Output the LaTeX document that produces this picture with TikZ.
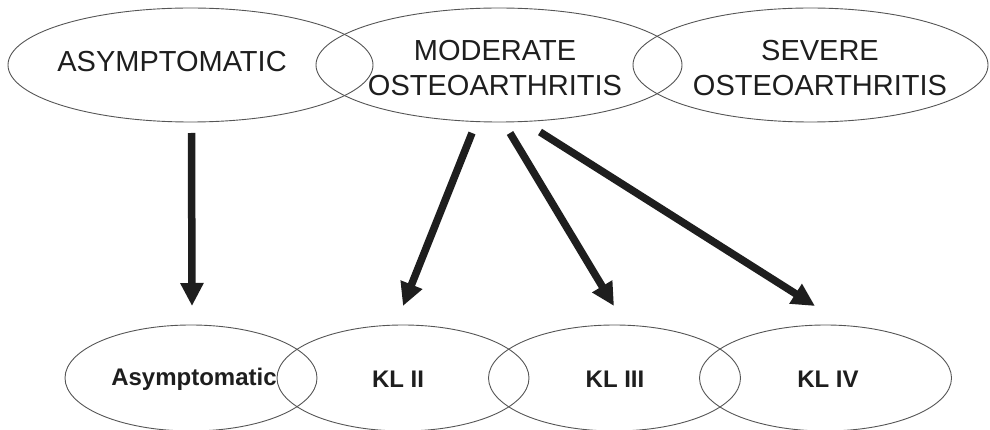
\documentclass[tikz,border=0pt]{standalone}
\usepackage{fontspec}
\setmainfont{Liberation Sans}
\usetikzlibrary{shapes.geometric,arrows.meta}
\definecolor{ring}{HTML}{555555}
\definecolor{ink}{HTML}{1E1E1E}
\tikzset{
  oval/.style={draw=ring,line width=0.9pt,ellipse,inner sep=0pt},
  topoval/.style={oval,minimum width=#1,minimum height=114pt},
  botoval/.style={oval,minimum width=252pt,minimum height=106pt},
  toptext/.style={text=ink,align=center,font=\fontsize{29}{35}\selectfont,inner sep=0pt},
  bottext/.style={text=ink,font=\fontsize{24}{28}\selectfont\bfseries,inner sep=0pt},
  bigarrow/.style={draw=ink,line width=7.5pt,-{Triangle[width=22pt,length=23pt]}}
}
\begin{document}
\begin{tikzpicture}[x=1pt,y=-1pt]
\useasboundingbox (0,0) rectangle (990,430);
% top ellipses
\node[topoval=365pt] (e1) at (190.5,65) {};
\node[topoval=366pt] (e2) at (499,65) {};
\node[topoval=355pt] (e3) at (810.5,65) {};
\node[toptext] (t1) at (172,62) {ASYMPTOMATIC};
\node[toptext] (t2) at (495,68) {MODERATE\\OSTEOARTHRITIS};
\node[toptext] (t3) at (820,68) {SEVERE\\OSTEOARTHRITIS};
% bottom ellipses
\node[botoval] (b1) at (191,378) {};
\node[botoval] (b2) at (403,378) {};
\node[botoval] (b3) at (614.5,378) {};
\node[botoval] (b4) at (825.5,378) {};
\node[bottext] (s1) at (194,379) {Asymptomatic};
\node[bottext] (s2) at (398,379) {KL II};
\node[bottext] (s3) at (615,379) {KL III};
\node[bottext] (s4) at (828,379) {KL IV};
% arrow ends
\coordinate (a1) at (191.5,133);
\coordinate (h1) at (192,306);
\coordinate (a2) at (472,133);
\coordinate (h2) at (403,306);
\coordinate (a3) at (510,133);
\coordinate (h3) at (614,306);
\coordinate (a4) at (540,132);
\coordinate (h4) at (815,306);
\draw[bigarrow] (a1) -- (h1);
\draw[bigarrow] (a2) -- (h2);
\draw[bigarrow] (a3) -- (h3);
\draw[bigarrow] (a4) -- (h4);
\end{tikzpicture}
\end{document}
